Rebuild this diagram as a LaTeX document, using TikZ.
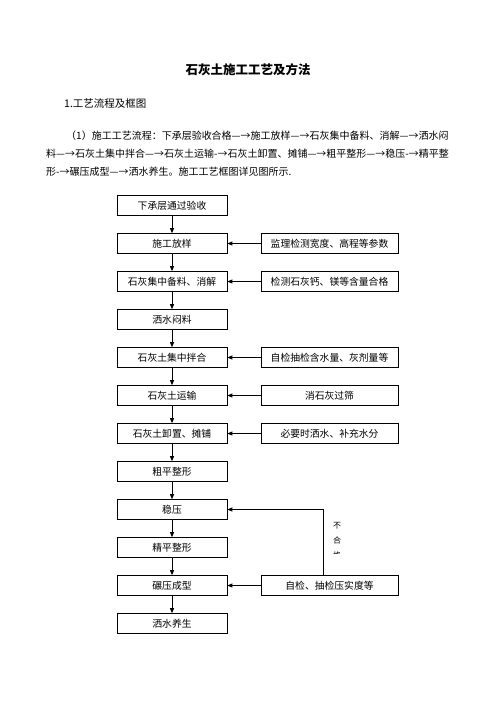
\documentclass[tikz,border=0pt]{standalone}
\usepackage{fontspec}
\setmainfont{Noto Sans CJK SC}
\usetikzlibrary{arrows.meta,positioning}

\begin{document}
\begin{tikzpicture}[
    x=1pt, y=-1pt,
    node distance=17.3pt and 33.3pt,
    stepbox/.style={draw, line width=0.7pt, minimum width=110pt, minimum height=20pt, inner sep=0pt, font=\fontsize{9.8}{10}\selectfont},
    checkbox/.style={stepbox, minimum width=137pt},
    arr/.style={-{Triangle[length=5pt, width=4pt]}, line width=0.8pt},
    txt/.style={anchor=west, inner sep=0pt, font=\fontsize{10}{12}\selectfont}
]
\useasboundingbox[fill=white] (0,0) rectangle (496,702);

% Heading and text
\node[font=\fontsize{12.5}{14}\selectfont\bfseries] (title) at (248,70) {石灰土施工工艺及方法};
\node[txt, font=\fontsize{10.5}{12}\selectfont] (h1) at (64,103) {1.工艺流程及框图};
\node[txt] (p1) at (66,136) {（1）施工工艺流程：下承层验收合格—→施工放样—→石灰集中备料、消解—→洒水闷};
\node[txt] (p2) at (46,154) {料—→石灰土集中拌合—→石灰土运输-→石灰土卸置、摊铺—→粗平整形—→稳压-→精平整};
\node[txt] (p3) at (46,172) {形-→碾压成型—→洒水养生。施工工艺框图详见图所示.};

% Process steps
\node[stepbox] (s1) at (172,205.5) {下承层通过验收};
\node[stepbox, below=of s1] (s2) {施工放样};
\node[stepbox, below=of s2] (s3) {石灰集中备料、消解};
\node[stepbox, below=of s3] (s4) {洒水闷料};
\node[stepbox, below=of s4] (s5) {石灰土集中拌合};
\node[stepbox, below=of s5] (s6) {石灰土运输};
\node[stepbox, below=of s6] (s7) {石灰土卸置、摊铺};
\node[stepbox, below=of s7] (s8) {粗平整形};
\node[stepbox, below=of s8] (s9) {稳压};
\node[stepbox, below=of s9] (s10) {精平整形};
\node[stepbox, below=of s10] (s11) {碾压成型};
\node[stepbox, below=of s11] (s12) {洒水养生};

% Checks
\node[checkbox, right=of s2] (c2) {监理检测宽度、高程等参数};
\node[checkbox, right=of s3] (c3) {检测石灰钙、镁等含量合格};
\node[checkbox, right=of s5] (c5) {自检抽检含水量、灰剂量等};
\node[checkbox, right=of s6] (c6) {消石灰过筛};
\node[checkbox, right=of s7] (c7) {必要时洒水、补充水分};
\node[checkbox, right=of s11] (c11) {自检、抽检压实度等};

\foreach \a/\b in {s1/s2,s2/s3,s3/s4,s4/s5,s5/s6,s6/s7,s7/s8,s8/s9,s9/s10,s10/s11,s11/s12}
    \draw[arr] (\a) -- (\b);
\foreach \c in {2,3,5,6,7,11}
    \draw[arr] (c\c) -- (s\c);

% Feedback
\draw[arr] ([xshift=63pt]c11.north west) |- (s9);
\begin{scope}
\clip (328,516) rectangle (348,553.5);
\node[font=\fontsize{8}{15}\selectfont, align=center, anchor=north, inner sep=0pt] (fail) at (337,522) {不\\合\\格};
\end{scope}
\end{tikzpicture}
\end{document}
